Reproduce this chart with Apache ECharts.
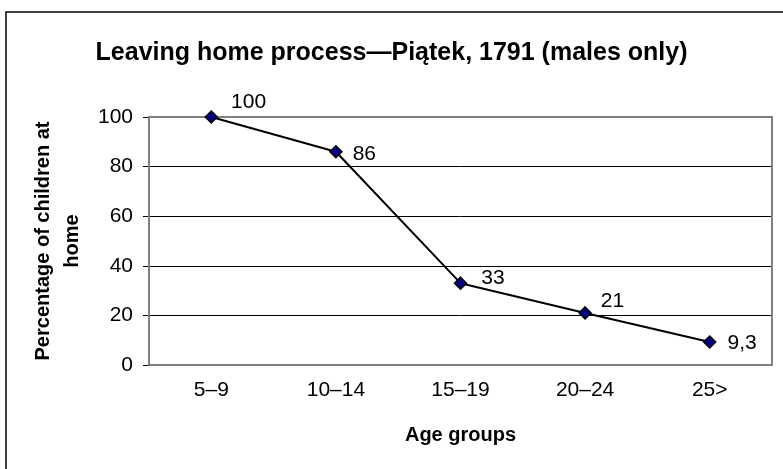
<!DOCTYPE html>
<html>
<head>
<meta charset="utf-8">
<script src="https://cdn.jsdelivr.net/npm/echarts@6/dist/echarts.min.js"></script>
<style>
  html, body { margin: 0; padding: 0; background: #fff; }
  #chart { width: 783px; height: 469px; }
</style>
</head>
<body>
<div id="chart"></div>
<script>
// data
const ageGroups = ['5–9', '10–14', '15–19', '20–24', '25>'];
const atHome = [100, 86, 33, 21, 9.3];
const yTicks = [0, 20, 40, 60, 80, 100];

// where each value label sits next to its marker
const labelOffsets = [[8, -15], [5, 2], [9, -5], [4, -12], [6, 1]];

const chart = echarts.init(document.getElementById('chart'), null, { renderer: 'canvas' });

const font = 'Arial, "Liberation Sans", sans-serif';

const option = {
    animation: false,
    title: {
        text: 'Leaving home process—Piątek, 1791 (males only)',
        left: 'center',
        top: 36,
        textStyle: { fontFamily: font, fontSize: 25, fontWeight: 'bold', color: '#000' }
    },
    graphic: [{
        type: 'rect',
        shape: { x: 6, y: 12, width: 790, height: 480 },
        style: { fill: null, stroke: '#000', lineWidth: 1.5 },
        silent: true
    }, {
        type: 'rect',
        shape: { x: 149, y: 117, width: 623, height: 248 },
        style: { fill: null, stroke: '#808080', lineWidth: 2 },
        z: 1,
        silent: true
    }],
    grid: { left: 149, right: 11, top: 117, bottom: 104, containLabel: false, outerBoundsMode: 'none' },
    xAxis: {
        type: 'category',
        data: ageGroups,
        boundaryGap: true,
        name: 'Age groups',
        nameLocation: 'middle',
        nameGap: 60,
        nameTextStyle: { fontFamily: font, fontSize: 20, fontWeight: 'bold', color: '#000' },
        axisLine: { lineStyle: { color: '#000', width: 1.5 } },
        axisTick: { alignWithLabel: false, length: 6, lineStyle: { color: '#000' } },
        axisLabel: { margin: 15, fontFamily: font, fontSize: 21, color: '#000' }
    },
    yAxis: {
        type: 'value',
        min: 0,
        max: 100,
        interval: 20,
        name: 'Percentage of children at\nhome',
        nameLocation: 'middle',
        nameRotate: 90,
        nameGap: 60,
        nameTextStyle: { fontFamily: font, fontSize: 20, fontWeight: 'bold', color: '#000', lineHeight: 29, align: 'center' },
        axisLine: { show: true, lineStyle: { color: '#000', width: 1.5 } },
        axisTick: { show: true, length: 6, lineStyle: { color: '#000' } },
        axisLabel: {
            margin: 16, fontFamily: font, fontSize: 21, color: '#000',
            formatter: v => yTicks.includes(v) ? String(v) : ''
        },
        splitLine: { lineStyle: { color: '#000', width: 1 } }
    },
    series: [{
        type: 'line',
        data: atHome.map((v, i) => ({
            value: v,
            label: { offset: labelOffsets[i] }
        })),
        symbol: 'diamond',
        symbolSize: 12,
        lineStyle: { color: '#000', width: 2 },
        itemStyle: { color: '#000080', borderColor: '#000', borderWidth: 1.5 },
        label: {
            show: true,
            position: 'right',
            distance: 5,
            fontFamily: font,
            fontSize: 21,
            color: '#000',
            formatter: p => String(p.value).replace('.', ',')
        },
        z: 3
    }]
};

chart.setOption(option);
</script>
</body>
</html>
